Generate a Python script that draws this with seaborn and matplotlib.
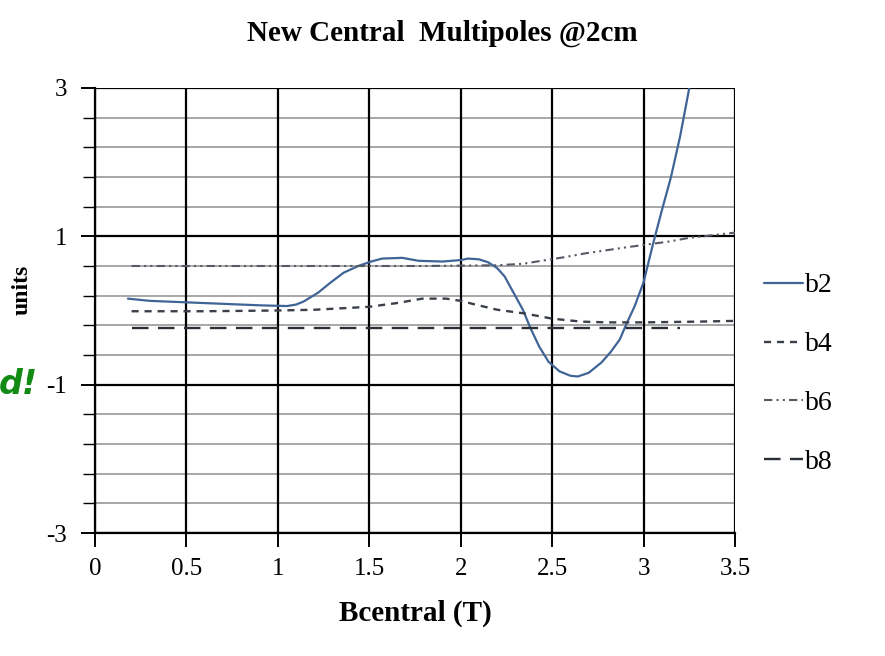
import numpy as np
import pandas as pd
import matplotlib
matplotlib.use("Agg")
import matplotlib.pyplot as plt
import seaborn as sns

sns.set_style("white")
plt.rcParams['font.family'] = ['Liberation Serif', 'DejaVu Serif']
plt.rcParams['text.color'] = 'black'
plt.rcParams['axes.labelcolor'] = 'black'
plt.rcParams['xtick.color'] = 'black'
plt.rcParams['ytick.color'] = 'black'

# ---- data ----
b2_x = [0.18, 0.3, 0.5, 0.7, 0.9, 1.05, 1.1, 1.14, 1.22, 1.29, 1.36, 1.44, 1.51, 1.57,
        1.68, 1.77, 1.9, 2.0, 2.04, 2.1, 2.15, 2.2, 2.24, 2.28, 2.34, 2.38, 2.43, 2.48,
        2.54, 2.6, 2.64, 2.7, 2.77, 2.82, 2.87, 2.91, 2.95, 3.0, 3.05, 3.1, 3.15, 3.2,
        3.25, 3.3]
b2_y = [0.16, 0.13, 0.11, 0.09, 0.07, 0.06, 0.08, 0.12, 0.24, 0.38, 0.51, 0.60, 0.66, 0.70,
        0.71, 0.67, 0.66, 0.68, 0.70, 0.69, 0.65, 0.57, 0.46, 0.28, 0.01, -0.23, -0.49, -0.69,
        -0.82, -0.88, -0.89, -0.84, -0.70, -0.56, -0.39, -0.16, 0.05, 0.38, 0.88, 1.35, 1.80,
        2.35, 3.00, 3.60]

b4_x = [0.2, 0.6, 1.0, 1.2, 1.35, 1.5, 1.65, 1.79, 1.92, 2.0, 2.08, 2.2, 2.35, 2.5, 2.66,
        2.8, 3.0, 3.3, 3.5]
b4_y = [-0.01, -0.01, 0.0, 0.01, 0.03, 0.05, 0.10, 0.16, 0.16, 0.13, 0.08, 0.01, -0.04,
        -0.11, -0.15, -0.16, -0.16, -0.15, -0.14]

b6_x = [0.2, 0.6, 1.0, 1.4, 1.8, 2.2, 2.34, 2.57, 2.68, 2.9, 3.14, 3.25, 3.5]
b6_y = [0.60, 0.60, 0.60, 0.60, 0.60, 0.61, 0.63, 0.72, 0.77, 0.85, 0.93, 0.98, 1.05]

b8_x = [0.2, 1.0, 2.0, 3.2]
b8_y = [-0.24, -0.24, -0.24, -0.24]

labels = ["b2", "b4", "b6", "b8"]
x_ticks = [0, 0.5, 1, 1.5, 2, 2.5, 3, 3.5]
x_ticklabels = ["0", "0.5", "1", "1.5", "2", "2.5", "3", "3.5"]
y_ticks = [-3, -1, 1, 3]
y_ticklabels = ["-3", "-1", "1", "3"]

# ---- figure ----
fig = plt.figure(figsize=(8.85, 6.56), dpi=100)
ax = fig.add_axes([95/885, 1-533/656, (735-95)/885, (533-88)/656])

series = [(b2_x, b2_y, "#3f6496", "-", 1.6),
          (b4_x, b4_y, "#3a3f4a", (0, (3, 2.5)), 1.7),
          (b6_x, b6_y, "#555a66", (0, (4, 2, 1, 2, 1, 2)), 1.5),
          (b8_x, b8_y, "#2a2e36", (0, (7, 4)), 1.7)]

for (xs, ys, c, ls, lw), lab in zip(series, labels):
    df = pd.DataFrame({"x": xs, "y": ys})
    sns.lineplot(data=df, x="x", y="y", ax=ax, color=c, linestyle=ls, linewidth=lw,
                 estimator=None, sort=False, label=lab, legend=False)

ax.set_xlim(0, 3.5)
ax.set_ylim(-3, 3)
ax.set_xticks(x_ticks)
ax.set_xticklabels(x_ticklabels)
ax.set_yticks(y_ticks)
ax.set_yticklabels(y_ticklabels)
ax.set_yticks(np.arange(-3, 3.01, 0.4), minor=True)

# grid
ax.grid(False)
for yv in np.arange(-3, 3.01, 0.4):
    if not any(abs(yv - t) < 1e-6 for t in y_ticks):
        ax.axhline(yv, color="#8f8f8f", lw=1.1, zorder=0)
for yv in y_ticks:
    ax.axhline(yv, color="black", lw=1.6, zorder=0)
for xv in x_ticks:
    ax.axvline(xv, color="black", lw=1.6, zorder=0)

for s in ["top", "right"]:
    ax.spines[s].set_visible(False)
for s in ["left", "bottom"]:
    ax.spines[s].set_linewidth(1.6)
    ax.spines[s].set_color("black")

ax.tick_params(axis="x", which="major", direction="out", length=10, width=1.4,
               labelsize=18, pad=8, bottom=True)
ax.tick_params(axis="y", which="major", direction="out", length=10, width=1.4,
               labelsize=18, pad=10, left=True)
ax.tick_params(axis="y", which="minor", direction="out", length=9, width=1.0, left=True)

ax.set_xlabel("Bcentral (T)", fontsize=21, fontweight="bold", labelpad=14)
ax.set_ylabel("")
fig.text(22/885, 1-290/656, "units", rotation=90, fontsize=17, fontweight="bold",
         ha="center", va="center")
fig.text(0.5*(245+640)/885, 1-33/656, "New Central  Multipoles @2cm", fontsize=21,
         fontweight="bold", ha="center", va="center")

fig.text(38/885, 1-385/656, "d!", fontsize=24, fontweight="bold", fontstyle="italic",
         color="#138a13", ha="right", va="center", family=["DejaVu Sans"])

leg = ax.legend(loc="upper left", bbox_to_anchor=(739/885, 1-248/656),
                bbox_transform=fig.transFigure, frameon=False, fontsize=20,
                handlelength=1.4, handletextpad=0.08, labelspacing=1.2)

fig.savefig("out.png", dpi=100)
